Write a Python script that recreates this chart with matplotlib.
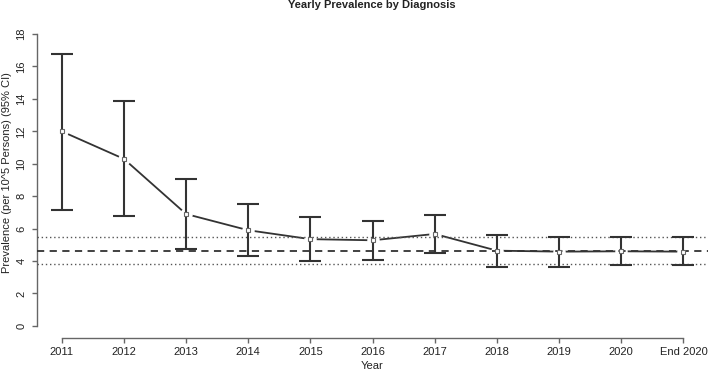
import numpy as np
import matplotlib
matplotlib.use("Agg")
import matplotlib.pyplot as plt

plt.rcParams['font.family'] = ['Liberation Sans', 'DejaVu Sans']

years = ["2011", "2012", "2013", "2014", "2015", "2016", "2017", "2018", "2019", "2020", "End 2020"]
prevalence = [12.0, 10.3, 6.9, 5.9, 5.35, 5.28, 5.67, 4.64, 4.58, 4.6, 4.58]
ci_lower = [7.15, 6.75, 4.75, 4.3, 4.0, 4.05, 4.48, 3.66, 3.66, 3.74, 3.74]
ci_upper = [16.75, 13.9, 9.05, 7.5, 6.7, 6.45, 6.82, 5.61, 5.47, 5.47, 5.47]
overall_mean = 4.64
overall_lower = 3.8
overall_upper = 5.47

ink = "#333333"
text_col = "#222222"
x = np.arange(len(years))

fig = plt.figure(figsize=(7.09, 3.73), dpi=100)
ax = fig.add_axes([0.052, 0.095, 0.947, 0.845])

# connecting line with gaps around the points (like R type="b")
ax.plot(x, prevalence, color=ink, lw=1.3, zorder=1)
ax.plot(x, prevalence, ls="none", marker="o", ms=9, mfc="white", mec="none", zorder=2)

# overall estimate and its CI
ax.axhline(overall_mean, color=ink, lw=1.3, ls=(0, (4, 3)), zorder=3)
ax.axhline(overall_upper, color="#555555", lw=1.0, ls=(0, (1, 2)), zorder=3)
ax.axhline(overall_lower, color="#555555", lw=1.0, ls=(0, (1, 2)), zorder=3)

# confidence intervals
err = [np.array(prevalence) - np.array(ci_lower), np.array(ci_upper) - np.array(prevalence)]
ax.errorbar(x, prevalence, yerr=err, fmt="none", ecolor=ink, elinewidth=1.5,
            capsize=8, capthick=1.5, zorder=4)
ax.plot(x, prevalence, ls="none", marker="s", ms=3.5, mfc="white", mec="#666666",
        mew=0.8, zorder=5)

ax.set_xlim(-0.4, len(years) - 1 + 0.4)
ax.set_ylim(-0.72, 18.72)
ax.set_xticks(x)
ax.set_xticklabels(years)
ax.set_yticks(np.arange(0, 19, 2))
ax.set_yticklabels([str(v) for v in range(0, 19, 2)], rotation=90, va="center")

for side in ["top", "right"]:
    ax.spines[side].set_visible(False)
ax.spines["bottom"].set_bounds(0, len(years) - 1)
ax.spines["left"].set_bounds(0, 18)
for side in ["bottom", "left"]:
    ax.spines[side].set_color("#666666")
    ax.spines[side].set_linewidth(1.0)
ax.tick_params(colors="#666666", labelcolor=text_col, labelsize=8, length=3.5, width=1.0)
ax.tick_params(axis="x", pad=3.5)
ax.tick_params(axis="y", pad=4)

fig.text(372 / 709, 1 - 366 / 373, "Year", fontsize=8, color=text_col, ha="center", va="center")
fig.text(7 / 709, 1 - 173 / 373, "Prevalence (per 10^5 Persons) (95% CI)", fontsize=8,
         color=text_col, rotation=90, ha="center", va="center")
fig.text(372 / 709, 1 - 5 / 373, "Yearly Prevalence by Diagnosis", fontsize=8,
         fontweight="bold", color=text_col, ha="center", va="center")

fig.savefig("out.png", dpi=100)
